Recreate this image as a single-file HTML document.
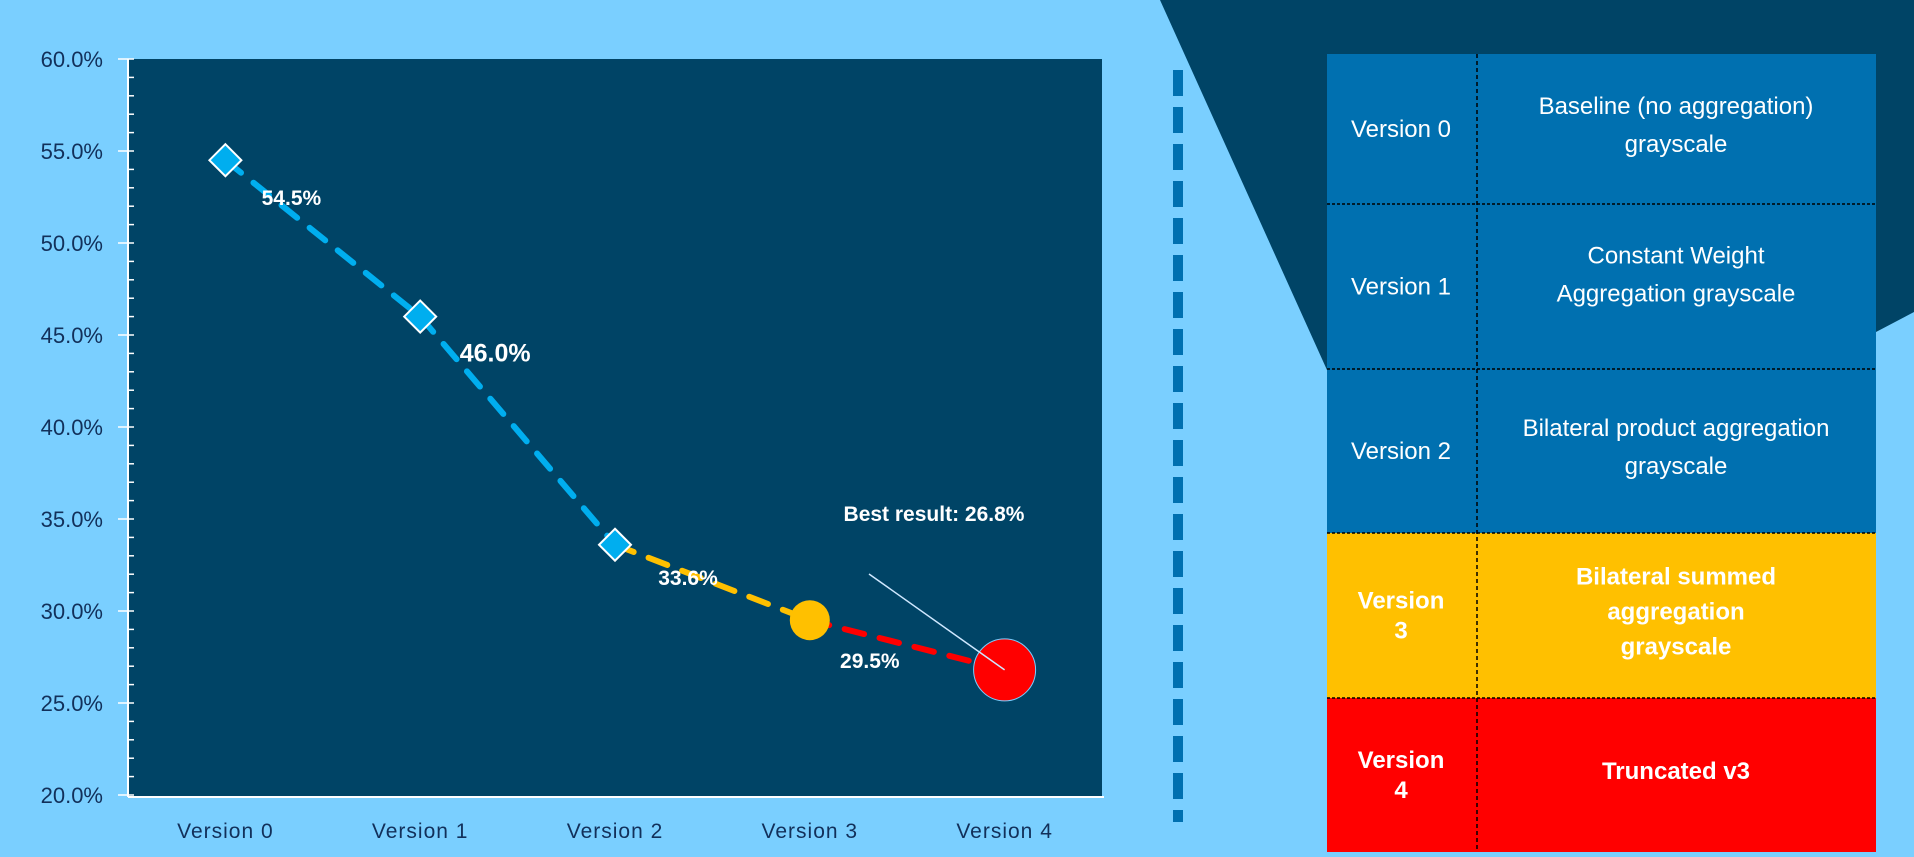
<!DOCTYPE html>
<html><head><meta charset="utf-8"><style>
body{margin:0;width:1914px;height:852px;overflow:hidden;background:#7acfff;font-family:"Liberation Sans",sans-serif}
</style></head><body>
<svg width="1914" height="852" xmlns="http://www.w3.org/2000/svg">
<rect x="0" y="0" width="1914" height="852" fill="#7acfff"/>
<polygon points="1160,0 1914,0 1914,312 1876,332 1876,370 1327,370" fill="#004466"/>
<rect x="128" y="59" width="974" height="737" fill="#004466"/>
<g id="axes"></g>
<g id="marks"></g>
<line x1="1178" y1="70" x2="1178" y2="822" stroke="#0070b0" stroke-width="10" stroke-dasharray="26,11"/>
<g id="table"></g>
</svg>
<script>
const categories=["Version 0","Version 1","Version 2","Version 3","Version 4"];
const values=[54.5,46.0,33.6,29.5,26.8];
const labels=["54.5%","46.0%","33.6%","29.5%",""];
const yTicks=[20,25,30,35,40,45,50,55,60];
const NS="http://www.w3.org/2000/svg";
const X0=128,X1=1102,Y0=59,Y1=795,YMIN=20,YMAX=60;
function xs(i){return X0+(X1-X0)/categories.length*(i+0.5);}
function ys(v){return Y1-(v-YMIN)/(YMAX-YMIN)*(Y1-Y0);}
function mk(tag,attrs,parent,text){const e=document.createElementNS(NS,tag);for(const k in attrs)e.setAttribute(k,attrs[k]);if(text!==undefined)e.textContent=text;parent.appendChild(e);return e;}
const axes=document.getElementById('axes'),marks=document.getElementById('marks');
let a=mk('line',{x1:X0,y1:Y0,x2:X0,y2:Y1+2,stroke:'#fff','stroke-width':2},axes);

a=mk('line',{x1:X0,y1:Y1+2,x2:X1+2,y2:Y1+2,stroke:'#fff','stroke-width':2},axes);

for(let v=YMIN;v<=YMAX;v+=1){const y=ys(v);const major=v%5===0;
 const t=mk('line',{x1:major?X0-10:X0,y1:y,x2:X0+6,y2:y,stroke:'#fff','stroke-width':1.5},axes);
 }
yTicks.forEach(v=>{const t=mk('text',{x:103,y:ys(v)+8,'text-anchor':'end','font-size':22,fill:'#12305a'},axes,v.toFixed(1)+'%');
 });
categories.forEach((c,i)=>{const t=mk('text',{x:xs(i),y:838,'text-anchor':'middle','font-size':21,fill:'#12305a','letter-spacing':1},axes,c);
 });
const segColors=['#00aeef','#00aeef','#ffc000','#ff0000'];
for(let i=0;i<values.length-1;i++){const l=mk('line',{x1:xs(i),y1:ys(values[i]),x2:xs(i+1),y2:ys(values[i+1]),stroke:segColors[i],'stroke-width':6,'stroke-dasharray':'20,16','stroke-linecap':'round'},marks);
 }
for(let i=0;i<3;i++){const x=xs(i),y=ys(values[i]),r=16;
 const p=mk('polygon',{points:`${x},${y-r} ${x+r},${y} ${x},${y+r} ${x-r},${y}`,fill:'#00aeef',stroke:'#fff','stroke-width':2},marks);
 }
let c=mk('circle',{cx:xs(3),cy:ys(values[3]),r:20,fill:'#ffc000'},marks);

c=mk('circle',{cx:xs(4),cy:ys(values[4]),r:31,fill:'#ff0000',stroke:'#7acfff','stroke-width':1},marks);

const lblOff=[[66,45,21],[75,45,25],[73,40,21],[60,48,21]];
labels.forEach((s,i)=>{if(!s)return;const t=mk('text',{x:xs(i)+lblOff[i][0],y:ys(values[i])+lblOff[i][1],'text-anchor':'middle','font-size':lblOff[i][2],'font-weight':'bold',fill:'#fff'},marks,s);
 });
let t=mk('text',{x:934,y:521,'text-anchor':'middle','font-size':21,'font-weight':'bold',fill:'#fff'},marks,'Best result: 26.8%');

let l=mk('line',{x1:869,y1:574,x2:xs(4),y2:ys(values[4]),stroke:'#cfe8ff','stroke-width':1.5},marks);

// table
const rowNames=[["Version 0"],["Version 1"],["Version 2"],["Version","3"],["Version","4"]];
const rowDesc=[["Baseline (no aggregation)","grayscale"],["Constant Weight","Aggregation grayscale"],["Bilateral product aggregation","grayscale"],["Bilateral summed","aggregation","grayscale"],["Truncated v3"]];
const rowColor=['#0070b0','#0070b0','#0070b0','#ffc000','#ff0000'];
const rowY=[54,204,369,533,698,852];
const tb=document.getElementById('table');
for(let i=0;i<5;i++){const y=rowY[i],h=rowY[i+1]-y,bold=i>=3;
 const r=mk('rect',{x:1327,y:y,width:549,height:h,fill:rowColor[i]},tb);
 
 const cy=y+h/2,fs=24,lh=30;
 rowNames[i].forEach((s,k)=>{const tt=mk('text',{x:1401,y:cy+(k-(rowNames[i].length-1)/2)*lh+8,'text-anchor':'middle','font-size':fs,'font-weight':bold?'bold':'normal',fill:'#fff'},tb,s);
  });
 const off=i===1?-12:(i===3?-4:-4);
 rowDesc[i].forEach((s,k)=>{const tt=mk('text',{x:1676,y:cy+off+(k-(rowDesc[i].length-1)/2)*(bold?35:38)+8,'text-anchor':'middle','font-size':fs,'font-weight':bold?'bold':'normal',fill:'#fff'},tb,s);
  });
 if(i>0){const bl=mk('line',{x1:1327,y1:y,x2:1876,y2:y,stroke:'#000','stroke-width':1.5,'stroke-dasharray':'3,2'},tb);
  }}
l=mk('line',{x1:1477,y1:54,x2:1477,y2:852,stroke:'#000','stroke-width':1.5,'stroke-dasharray':'4,3'},tb);

</script>
</body></html>
